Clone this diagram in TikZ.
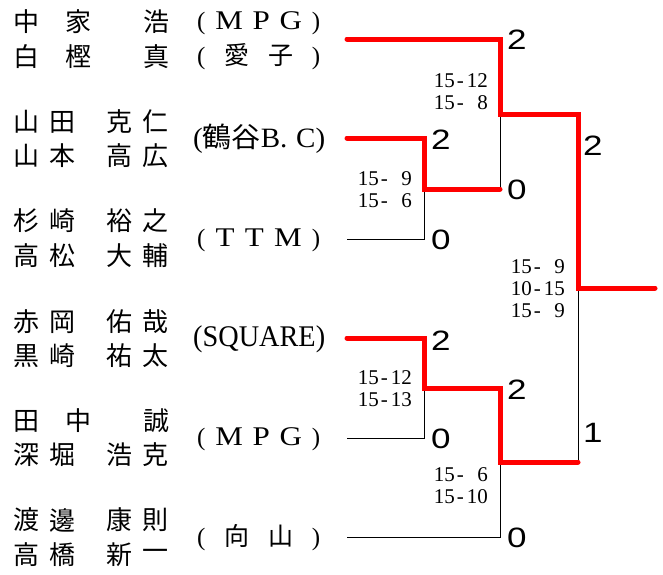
\documentclass[tikz,border=0pt]{standalone}
\usepackage{fontspec}
\usepackage{graphicx}
\setmainfont{Liberation Serif}
\newfontfamily\cjk{Noto Sans CJK JP}
\newfontfamily\gothic{Liberation Sans}
\newcommand\scpair[2]{\makebox[22pt][r]{#1}\makebox[11pt]{-}\makebox[22pt][r]{#2}}
\newcommand\bigsc[1]{\scalebox{1.25}[1]{#1}}
\newcommand\tlet[1]{{\fontsize{27}{27}\selectfont\scalebox{1.15}[1]{#1}}}
\newcommand\fourname[6]{%
  \node[namech] (#1a) at (26,#2) {#3};
  \node[namech] (#1b) at (62,#2) {#4};
  \node[namech] (#1c) at (119,#2) {#5};
  \node[namech] (#1d) at (155,#2) {#6};}
\newcommand\threename[5]{%
  \node[namech] (#1a) at (26,#2) {#3};
  \node[namech] (#1b) at (78,#2) {#4};
  \node[namech] (#1c) at (156,#2) {#5};}
\begin{document}
\begin{tikzpicture}[x=1pt,y=-1pt,
  namech/.style={font=\cjk\fontsize{26}{26}\selectfont, inner sep=0pt, anchor=center},
  team/.style={font=\fontsize{25}{25}\selectfont, inner sep=0pt, anchor=west},
  result/.style={font=\gothic\fontsize{28}{28}\selectfont, inner sep=0pt, anchor=west},
  games/.style={font=\fontsize{21}{22}\selectfont, inner sep=0pt, anchor=east, align=right},
  win/.style={draw=red, line width=5pt, line cap=round},
  lose/.style={draw=black, line width=0.9pt}]
\useasboundingbox (0,0) rectangle (663,574);
\fill[white] (0,0) rectangle (663,574);
% names
\threename{n1}{22}{中}{家}{浩}
\threename{n2}{57}{白}{樫}{真}
\fourname{n3}{122}{山}{田}{克}{仁}
\fourname{n4}{156}{山}{本}{高}{広}
\fourname{n5}{221}{杉}{崎}{裕}{之}
\fourname{n6}{256}{高}{松}{大}{輔}
\fourname{n7}{322}{赤}{岡}{佑}{哉}
\fourname{n8}{356}{黒}{崎}{祐}{太}
\threename{n9}{421}{田}{中}{誠}
\fourname{n10}{455}{深}{堀}{浩}{克}
\fourname{n11}{520}{渡}{邊}{康}{則}
\fourname{n12}{555}{高}{橋}{新}{一}
% clubs
\node[team] (c1) at (197,23) {\makebox[123pt][s]{(\hfil\tlet{M}\hfil\tlet{P}\hfil\tlet{G}\hfil)}};
\node[team] (c2) at (197,57) {\makebox[123pt][s]{(\hfil{\cjk 愛}\hfil{\cjk 子}\hfil)}};
\node[team] (c3) at (193,139) {\resizebox{132pt}{\height}{\fontsize{28}{28}\selectfont({\cjk 鶴谷}B.\hspace{0.3em}C)}};
\node[team] (c4) at (197,240) {\makebox[123pt][s]{(\hfil\tlet{T}\hfil\tlet{T}\hfil\tlet{M}\hfil)}};
\node[team] (c5) at (193,339) {\resizebox{132pt}{\height}{\fontsize{30}{30}\selectfont(SQUARE)}};
\node[team] (c6) at (197,439) {\makebox[123pt][s]{(\hfil\tlet{M}\hfil\tlet{P}\hfil\tlet{G}\hfil)}};
\node[team] (c7) at (197,538) {\makebox[123pt][s]{(\hfil{\cjk 向}\hfil{\cjk 山}\hfil)}};
% bracket points
\coordinate (e1) at (347,39);
\coordinate (e2) at (347,138);
\coordinate (e3) at (347,239);
\coordinate (e4) at (347,338);
\coordinate (e5) at (347,438);
\coordinate (e6) at (347,537);
\coordinate (q1) at (424,189);
\coordinate (q2) at (424,388);
\coordinate (s1) at (500,114);
\coordinate (s2) at (500,462);
\coordinate (f) at (578,288);
\coordinate (champ) at (655,288);
% losing lines
\draw[lose] (e3) -| (q1);
\draw[lose] (q1 -| s1) -- (s1);
\draw[lose] (e5) -| (q2);
\draw[lose] (e6) -| (s2);
\draw[lose] (f) -- (f |- s2);
% winning lines
\draw[win] (e1) -| (s1) -| (f) -- (champ);
\draw[win] (e2) -| (q1) -- (q1 -| s1);
\draw[win] (e4) -| (q2) -| (s2) -- (s2 -| f);
% results
\node[result] (r1) at (507,40) {\bigsc{2}};
\node[result] (r2) at (431,140) {\bigsc{2}};
\node[result] (r3) at (431,240) {\bigsc{0}};
\node[result] (r12) at (507,190) {\bigsc{0}};
\node[result] (rs1) at (583,146) {\bigsc{2}};
\node[result] (r4) at (431,341) {\bigsc{2}};
\node[result] (r5) at (431,439) {\bigsc{0}};
\node[result] (r45) at (507,390) {\bigsc{2}};
\node[result] (r6) at (507,538) {\bigsc{0}};
\node[result] (rs2) at (583,433) {\bigsc{1}};
% game scores
\node[games] (g1) at (488,92) {\scpair{15}{12}\\\scpair{15}{8}};
\node[games] (g2) at (412,190) {\scpair{15}{9}\\\scpair{15}{6}};
\node[games] (g3) at (565,289) {\scpair{15}{9}\\\scpair{10}{15}\\\scpair{15}{9}};
\node[games] (g4) at (412,389) {\scpair{15}{12}\\\scpair{15}{13}};
\node[games] (g5) at (488,486) {\scpair{15}{6}\\\scpair{15}{10}};
\end{tikzpicture}
\end{document}
